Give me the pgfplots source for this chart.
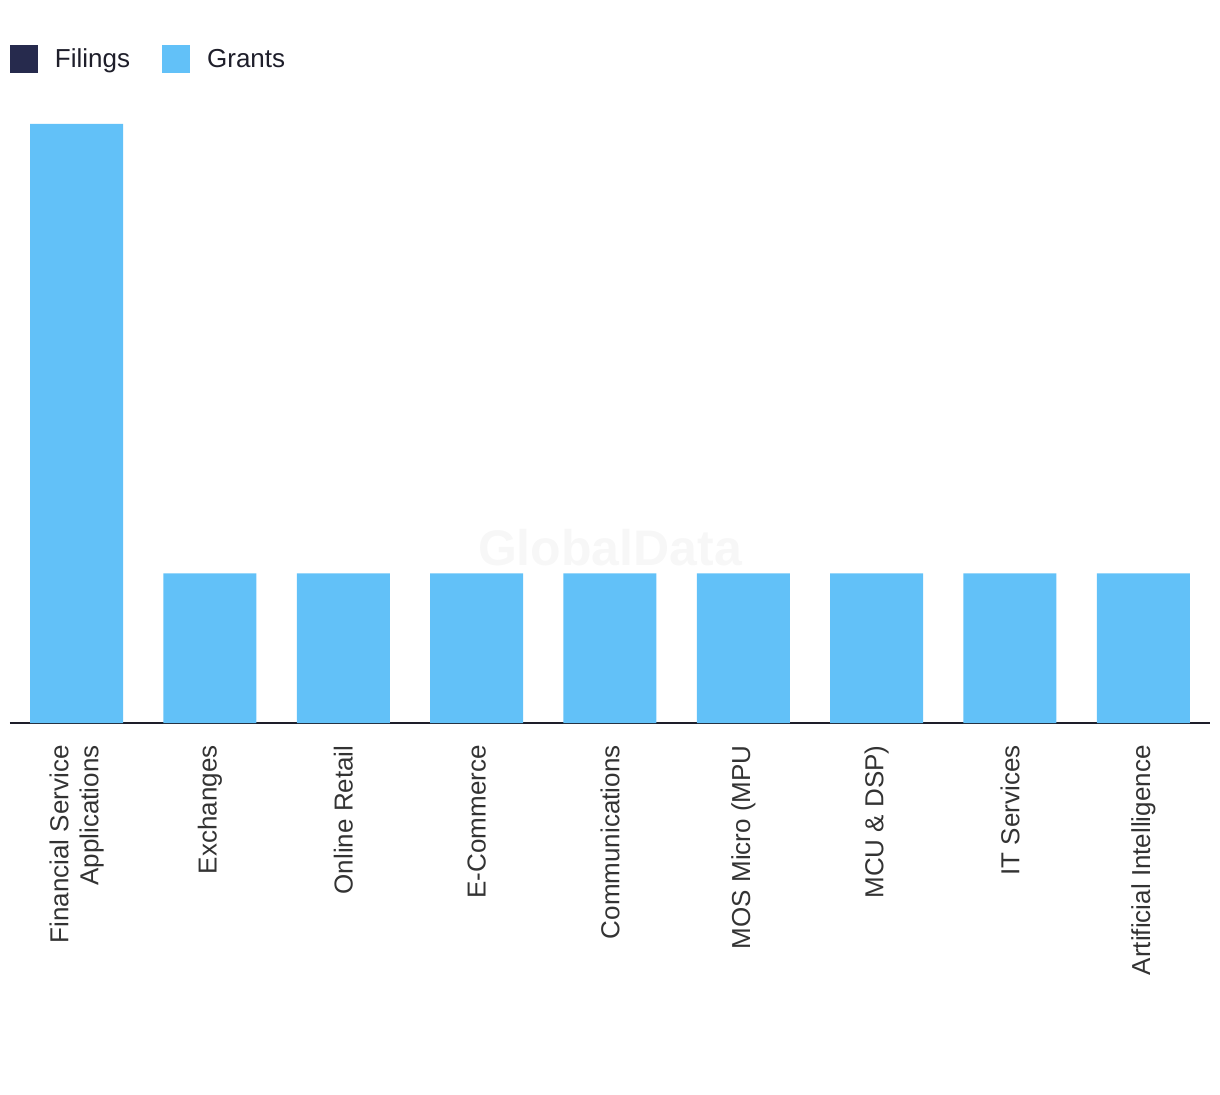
\documentclass[border=0pt]{standalone}
\usepackage{pgfplots}
\pgfplotsset{compat=1.18}
\usepackage{fontspec}
\setmainfont{Liberation Sans}
\definecolor{grantc}{HTML}{62C1F8}
\definecolor{filingc}{HTML}{262A4D}
\definecolor{axisc}{HTML}{1E1E2A}
\definecolor{labc}{HTML}{333333}
\begin{document}
\begin{tikzpicture}
\path[use as bounding box] (0pt,0pt) rectangle (610pt,547pt);
\begin{axis}[
  at={(5pt,185.5pt)}, anchor=south west,
  scale only axis, width=600pt, height=299.5pt,
  xmin=-0.5, xmax=8.5, ymin=0, ymax=4,
  axis x line*=bottom, axis y line=none,
  x axis line style={-, draw=axisc, line width=1pt},
  xtick={0,1,2,3,4,5,6,7,8},
  xticklabels={{Financial Service\\Applications},Exchanges,Online Retail,E-Commerce,Communications,MOS Micro (MPU,MCU \& DSP),IT Services,Artificial Intelligence},
  major tick length=0pt,
  xticklabel style={rotate=90, anchor=east, align=right, font=\fontsize{13}{15}\selectfont, text=labc, inner sep=0pt},
  xticklabel shift=11pt,
  ytick=\empty,
  clip=false,
  legend style={draw=none, at={(0,1.1068)}, anchor=west, legend columns=2, inner sep=0pt, outer sep=0pt,
    font=\fontsize{13}{15}\selectfont, text=axisc,
    /tikz/every odd column/.append style={column sep=6.5pt},
    /tikz/every even column/.append style={column sep=14pt}},
  legend image code/.code={\fill[#1] (0pt,-6.5pt) rectangle (14pt,7.5pt);},
]
\node[font=\bfseries\fontsize{25}{27}\selectfont, text=black!3] at (axis cs:4,1.17) {GlobalData};
\addlegendimage{fill=filingc, draw=none}
\addlegendentry{Filings}
\addplot[ybar, bar width=46.5pt, fill=grantc, draw=none] coordinates {(0,4) (1,1) (2,1) (3,1) (4,1) (5,1) (6,1) (7,1) (8,1)};
\addlegendentry{Grants}
\end{axis}
\end{tikzpicture}
\end{document}
